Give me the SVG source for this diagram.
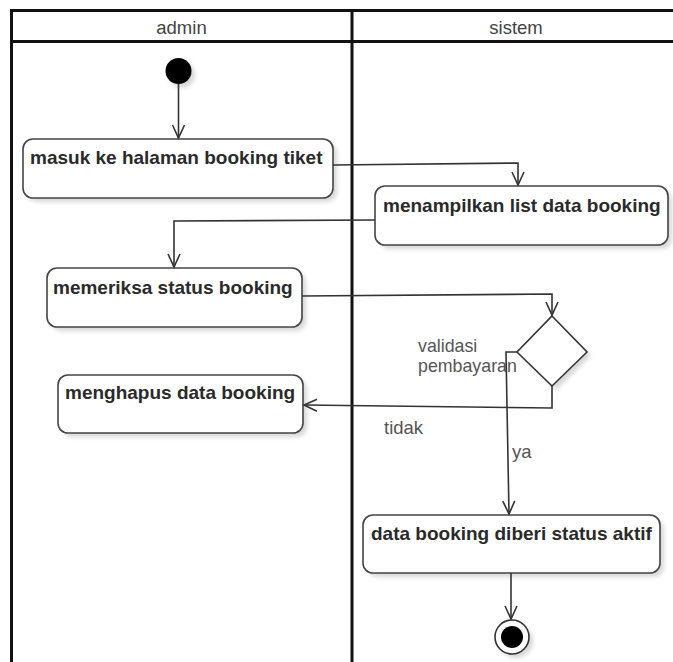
<svg xmlns="http://www.w3.org/2000/svg" width="673" height="662" viewBox="0 0 673 662">
<style>
.frame{fill:none;stroke:#111;stroke-width:3}
.box{fill:#fff;stroke:#444;stroke-width:1.6}
.shadow{fill:#d8d8d8;filter:url(#blur)}
.lbl{font-family:"Liberation Sans",Arial,sans-serif;font-size:19px;font-weight:bold;fill:#2a2a2a}
.hdr{font-family:"Liberation Sans",Arial,sans-serif;font-size:18.5px;fill:#444}
.txt{font-family:"Liberation Sans",Arial,sans-serif;font-size:18.5px;fill:#555}
.dtxt{font-family:"Liberation Sans",Arial,sans-serif;font-size:17.8px;fill:#555}
.edge{fill:none;stroke:#333;stroke-width:1.6;marker-end:url(#arrow)}
</style>
<defs>
<filter id="blur" x="-10%" y="-10%" width="120%" height="120%"><feGaussianBlur stdDeviation="2"/></filter>
<marker id="arrow" markerUnits="userSpaceOnUse" markerWidth="16" markerHeight="16" viewBox="-14 -8 16 16" refX="0" refY="0" orient="auto">
<path d="M-13,-6 L0,0 L-13,6" fill="none" stroke="#333" stroke-width="1.6"/>
</marker>
</defs>
<rect width="673" height="662" fill="#fff"/>
<g id="pool">
<line class="frame" x1="11.5" y1="10.5" x2="673" y2="10.5"/>
<line class="frame" x1="11.5" y1="41.5" x2="673" y2="41.5"/>
<line class="frame" x1="11.5" y1="9" x2="11.5" y2="662"/>
<line class="frame" x1="352" y1="9" x2="352" y2="662"/>
<text class="hdr" x="181.5" y="34" text-anchor="middle">admin</text>
<text class="hdr" x="516" y="34" text-anchor="middle">sistem</text>
</g>
<g id="start">
<circle cx="182" cy="75" r="13" class="shadow"/>
<circle cx="178.5" cy="71" r="13" fill="#000"/>
</g>
<g id="n1">
<rect class="shadow" x="27" y="143" width="310" height="59" rx="10"/>
<rect class="box" x="23" y="139" width="310" height="59" rx="10"/>
<text class="lbl" x="30" y="164">masuk ke halaman booking tiket</text>
</g>
<g id="n2">
<rect class="shadow" x="379" y="190" width="293" height="59" rx="10"/>
<rect class="box" x="375" y="186" width="293" height="59" rx="10"/>
<text class="lbl" x="383" y="212">menampilkan list data booking</text>
</g>
<g id="n3">
<rect class="shadow" x="51" y="272" width="255" height="59" rx="10"/>
<rect class="box" x="47" y="268" width="255" height="59" rx="10"/>
<text class="lbl" x="53" y="294">memeriksa status booking</text>
</g>
<g id="decision">
<path class="shadow" d="M556,320 L591,356 L556,390 L521,356 Z"/>
<path d="M552,316 L587,352 L552,386 L517,352 Z" fill="#fff" stroke="#333" stroke-width="1.6"/>
<text class="dtxt" x="418" y="352">validasi</text>
<text class="dtxt" x="418" y="372">pembayaran</text>
</g>
<g id="n4">
<rect class="shadow" x="62" y="379" width="245" height="58" rx="10"/>
<rect class="box" x="58" y="375" width="245" height="58" rx="10"/>
<text class="lbl" x="65" y="399">menghapus data booking</text>
</g>
<g id="n5">
<rect class="shadow" x="367" y="519" width="297" height="58" rx="10"/>
<rect class="box" x="363" y="515" width="297" height="58" rx="10"/>
<text class="lbl" x="371" y="540">data booking diberi status aktif</text>
</g>
<g id="end">
<circle cx="516" cy="641" r="17" class="shadow"/>
<circle cx="512" cy="637" r="17" fill="#fff" stroke="#333" stroke-width="1.6"/>
<circle cx="512" cy="637" r="11" fill="#000"/>
</g>
<g id="connectors">
<path class="edge" d="M178.5,84 L178.5,138"/>
<path class="edge" d="M333,165 L518,163 L518,185"/>
<path class="edge" d="M375,220 L174,221 L174,267"/>
<path class="edge" d="M302,296 L552,294 L552,315"/>
<path class="edge" d="M552,386 L552,408 L304,405"/>
<path class="edge" d="M517,352 L506,352 L509,514"/>
<path class="edge" d="M511,573 L511,619"/>
<text class="txt" x="384" y="434">tidak</text>
<text class="txt" x="512" y="458">ya</text>
</g>
</svg>
